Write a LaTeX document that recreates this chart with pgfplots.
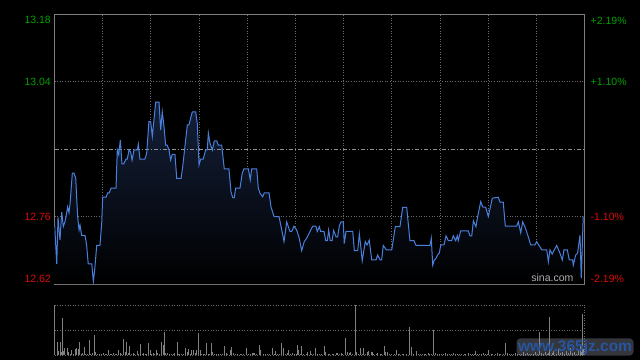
\documentclass[border=0pt]{standalone}
\usepackage{pgfplots}
\pgfplotsset{compat=1.18}
\usepackage{pgfplotstable}
\usepackage{fontspec}
\setmainfont{Liberation Sans}
\definecolor{gridc}{RGB}{105,105,105}
\definecolor{framec}{RGB}{125,125,125}
\definecolor{linec}{RGB}{74,128,220}
\definecolor{upg}{RGB}{0,160,0}
\definecolor{dnr}{RGB}{220,10,10}
\definecolor{volc}{RGB}{128,128,128}
\definecolor{fillc}{RGB}{20,32,58}
\definecolor{wmblue}{RGB}{40,85,160}

\pgfplotstableread{
m p
0 12.749
1.4 12.662
2.2 12.758
3.4 12.711
4.5 12.769
5.5 12.739
6.5 12.749
7.2 12.760
8.2 12.780
9.0 12.768
9.7 12.787
11.1 12.850
12.1 12.850
13.2 12.840
14.4 12.760
15.3 12.732
15.9 12.742
16.9 12.721
19.0 12.721
20.0 12.701
21.0 12.662
23.2 12.662
24.2 12.625
25.0 12.649
26.3 12.700
28.3 12.700
29.4 12.746
30.0 12.800
32.1 12.800
33.1 12.809
34.1 12.809
35.2 12.819
38.3 12.819
39.1 12.898
40.0 12.888
41.0 12.919
42.0 12.869
43.1 12.869
44.5 12.879
45.3 12.879
46.4 12.898
47.4 12.894
48.3 12.877
49.5 12.898
51.6 12.898
52.2 12.910
53.2 12.879
56.3 12.879
57.4 12.891
58.8 12.957
59.9 12.957
60.9 12.926
63.0 12.997
65.1 12.997
66.1 12.939
67.1 12.977
68.2 12.946
69.2 12.908
70.2 12.908
71.3 12.898
72.3 12.877
73.3 12.889
75.0 12.889
76.1 12.839
78.8 12.839
79.8 12.863
81.3 12.908
82.7 12.950
83.7 12.950
85.0 12.967
85.8 12.977
87.9 12.977
88.9 12.953
90.0 12.867
91.0 12.879
92.6 12.879
94.1 12.898
95.1 12.898
95.8 12.933
96.8 12.912
98.3 12.898
99.5 12.917
101.0 12.917
102.0 12.908
104.1 12.908
105.7 12.859
108.6 12.859
109.9 12.811
111.0 12.799
111.9 12.799
112.8 12.819
115.5 12.819
116.9 12.850
118.0 12.859
120.7 12.859
121.9 12.836
122.8 12.859
125.9 12.859
126.9 12.819
128.0 12.808
129.6 12.801
130.6 12.809
133.6 12.809
134.8 12.780
136.7 12.760
139.8 12.760
141.5 12.732
142.9 12.708
144.6 12.749
146.6 12.729
147.7 12.729
149.1 12.740
150.8 12.732
152.4 12.715
153.9 12.689
155.5 12.708
157.0 12.715
159.1 12.729
160.8 12.740
162.8 12.740
163.6 12.729
164.9 12.739
165.7 12.729
167.8 12.729
168.9 12.710
169.9 12.710
170.7 12.732
171.7 12.710
172.8 12.710
173.8 12.731
175.3 12.718
176.3 12.718
177.3 12.740
178.4 12.749
179.8 12.749
180.4 12.704
181.5 12.729
185.7 12.729
186.7 12.689
188.8 12.689
189.8 12.724
190.6 12.701
191.6 12.668
193.5 12.708
194.6 12.701
196.0 12.711
197.5 12.670
200.2 12.670
201.2 12.680
202.7 12.670
203.7 12.670
204.7 12.700
206.6 12.691
210.0 12.691
212.2 12.739
215.1 12.739
216.8 12.779
219.3 12.779
221.3 12.710
223.8 12.710
225.1 12.700
233.8 12.700
234.6 12.715
235.5 12.659
236.5 12.670
237.5 12.673
238.8 12.682
239.6 12.684
240.5 12.701
242.5 12.701
243.8 12.720
245.2 12.710
247.3 12.710
248.3 12.720
249.8 12.710
250.8 12.720
251.4 12.710
252.9 12.730
257.6 12.730
258.7 12.720
259.8 12.720
260.8 12.751
262.4 12.739
263.5 12.760
265.4 12.791
266.6 12.780
268.5 12.779
270.1 12.760
272.6 12.798
276.3 12.800
277.4 12.790
279.4 12.790
280.7 12.740
287.8 12.740
288.8 12.749
290.3 12.726
291.5 12.749
292.9 12.739
295.0 12.718
296.5 12.701
299.2 12.701
300.2 12.708
301.7 12.700
303.4 12.691
306.5 12.691
307.5 12.666
308.5 12.691
309.9 12.682
311.2 12.691
312.7 12.700
314.7 12.684
316.2 12.670
317.2 12.691
319.3 12.691
320.5 12.670
322.6 12.670
323.0 12.659
324.5 12.680
325.7 12.684
327.2 12.721
328.0 12.632
329.2 12.760
}\pricedata

\pgfplotstableread{
m v
0.1 38
1.7 26
2.8 8
3.6 26
4.2 7
4.9 74
5.5 8
6.5 14
7.8 14
8.6 7
9.7 3
10.5 10
11.7 3
13.0 13
13.8 14
14.8 12
15.4 26
16.7 3
17.6 4
18.6 16
19.4 3
20.4 2
21.7 30
22.5 3
23.8 4
24.8 40
25.6 7
26.6 3
27.9 2
29.1 3
30.4 4
31.6 2
32.5 3
33.5 10
34.6 3
35.6 2
36.6 4
37.7 2
38.7 3
39.7 10
40.8 4
41.8 2
42.8 32
43.9 7
44.7 26
45.8 4
46.6 18
47.8 3
48.9 4
50.1 2
51.6 8
52.6 3
53.4 22
54.5 3
55.3 4
56.5 2
57.4 3
58.4 24
59.5 11
60.5 3
61.5 4
62.4 3
63.4 10
64.4 4
65.3 2
66.5 26
67.6 20
68.4 46
69.4 4
70.2 4
71.5 2
72.7 2
74.0 2
75.0 4
76.3 26
77.3 2
78.1 2
79.2 2
80.2 2
81.4 14
82.5 6
83.6 12
84.6 2
85.6 10
86.4 10
87.7 4
88.5 10
89.5 44
90.6 10
91.8 2
92.6 3
93.7 3
94.8 24
95.8 2
96.8 3
97.6 24
98.5 7
99.7 2
101.0 2
102.2 2
103.2 2
104.5 2
105.7 18
106.8 4
108.0 2
109.3 10
110.5 16
111.3 4
112.6 2
113.8 2
115.5 2
116.5 2
117.4 2
119.4 14
120.7 3
121.9 2
123.0 4
123.8 4
124.8 4
125.9 3
127.5 20
128.4 10
130.0 2
131.1 2
132.5 2
133.7 2
135.6 14
136.9 2
137.5 8
138.7 2
140.0 3
141.2 24
142.5 14
143.7 3
144.8 4
146.0 10
147.1 2
148.1 4
149.3 2
150.4 2
151.2 20
151.8 10
152.9 2
154.1 18
155.2 3
156.6 2
157.8 6
159.1 8
160.3 2
161.4 3
162.4 14
163.6 3
164.9 2
166.1 2
168.0 18
169.0 6
170.3 2
171.5 2
172.8 2
174.0 2
175.3 4
176.1 4
177.3 2
178.4 4
179.4 2
181.1 34
182.3 6
183.4 4
184.4 6
185.7 2
187.3 100
188.2 6
189.2 2
190.4 14
191.5 2
192.5 14
193.5 3
194.6 6
195.8 8
197.1 6
197.9 6
198.9 2
200.2 2
201.2 4
202.7 2
203.9 2
205.3 18
206.4 6
207.5 6
208.5 2
210.0 2
211.4 2
212.8 10
213.9 2
215.1 2
216.4 2
217.6 2
218.9 2
220.9 56
222.2 16
223.4 2
225.3 8
226.5 2
227.8 2
229.0 2
230.2 2
231.3 2
232.6 4
233.8 2
234.6 3
235.9 50
237.1 4
238.3 3
239.5 2
240.8 3
242.0 2
243.3 4
244.6 2
246.0 3
247.2 2
248.5 4
249.8 2
251.0 3
252.3 2
253.6 2
255.0 3
256.2 2
257.5 4
258.8 2
260.0 3
261.2 2
262.2 8
263.5 2
264.8 3
266.0 2
267.3 4
268.6 2
269.6 3
270.5 10
271.8 2
273.0 3
274.3 2
275.6 4
276.8 2
278.0 3
279.3 2
280.5 24
281.8 4
283.0 2
284.3 3
285.6 2
286.8 4
288.0 2
289.3 3
290.6 2
291.8 6
293.0 2
294.3 4
295.6 2
296.8 3
298.0 2
299.3 6
300.5 3
301.8 46
303.0 4
304.3 2
305.6 6
306.8 3
307.8 4
308.5 76
309.8 4
311.0 8
312.3 3
313.5 12
314.8 4
316.0 6
317.3 3
318.5 8
319.8 4
321.0 14
322.3 4
323.5 6
324.8 3
326.0 10
327.3 20
328.3 6
328.9 82
329.6 12
}\voldata

\begin{document}
\begin{tikzpicture}[x=1pt,y=1pt]
\useasboundingbox (0,0) rectangle (640,360);
\fill[black] (0,0) rectangle (640,360);

% ---------- price panel ----------
\begin{axis}[
  at={(54.5pt,76pt)}, anchor=south west, scale only axis,
  width=530pt, height=270pt,
  xmin=0, xmax=330, ymin=12.62, ymax=13.18,
  xtick={30,60,...,300}, ytick={12.76,13.04},
  xticklabels={}, yticklabels={},
  major tick length=0pt,
  xmajorgrids, ymajorgrids,
  major grid style={gridc, dash pattern=on 1pt off 1.6pt, line width=0.8pt},
  axis line style={framec, line width=1pt},
  clip mode=individual,
  font=\fontsize{10.5}{12}\selectfont,
]
\addplot[draw=none, top color=fillc, bottom color=black]
  table[x=m,y=p]{\pricedata} -- (axis cs:329.2,12.62) -- (axis cs:0,12.62) -- cycle;
\addplot[gray!85, line width=0.8pt, dash pattern=on 4pt off 2pt on 1pt off 2pt]
  coordinates {(0,12.90) (330,12.90)};
\addplot[linec, line width=1pt, mark=none] table[x=m,y=p]{\pricedata};

% left price labels
\node[anchor=north east, inner sep=0, text=upg, xshift=-3.5pt, yshift=-2pt] at (axis cs:0,13.18) {13.18};
\node[anchor=east, inner sep=0, text=upg, xshift=-3.5pt] at (axis cs:0,13.04) {13.04};
\node[anchor=east, inner sep=0, text=dnr, xshift=-3.5pt] at (axis cs:0,12.76) {12.76};
\node[anchor=south east, inner sep=0, text=dnr, xshift=-3.5pt, yshift=1.3pt] at (axis cs:0,12.62) {12.62};
% right percent labels
\node[anchor=north west, inner sep=0, text=upg, xshift=6pt, yshift=-3pt] at (axis cs:330,13.18) {+2.19\%};
\node[anchor=west, inner sep=0, text=upg, xshift=6pt] at (axis cs:330,13.04) {+1.10\%};
\node[anchor=west, inner sep=0, text=dnr, xshift=6pt] at (axis cs:330,12.76) {-1.10\%};
\node[anchor=south west, inner sep=0, text=dnr, xshift=6pt, yshift=1.7pt] at (axis cs:330,12.62) {-2.19\%};
% sina watermark
\node[anchor=south east, inner sep=0, text={rgb,255:red,175;green,175;blue,175}] at (axis cs:323.2,12.624) {sina.com};
\end{axis}

% ---------- volume panel ----------
\begin{axis}[
  at={(54.5pt,5pt)}, anchor=south west, scale only axis,
  width=530pt, height=50pt,
  xmin=0, xmax=330, ymin=0, ymax=100,
  xtick={330}, ytick={0,50,100},
  xticklabels={}, yticklabels={},
  major tick length=0pt,
  xmajorgrids, ymajorgrids,
  major grid style={gridc, dash pattern=on 1pt off 1.6pt, line width=0.8pt},
  axis line style={draw=none},
  clip mode=individual,
]
\addplot[ycomb, volc, line width=1pt, mark=none] table[x=m,y=v]{\voldata};
\draw[framec, line width=1pt] (axis cs:0,0) -- (axis cs:0,100);
\end{axis}

% site watermark
\node[text=wmblue, font=\bfseries\fontsize{15.5}{16}\selectfont, fill={rgb,255:red,150;green,155;blue,170}, fill opacity=0.35, text opacity=1, rounded corners=4pt, inner sep=1.5pt] at (575,13) {www.365jz.com};
\end{tikzpicture}
\end{document}
